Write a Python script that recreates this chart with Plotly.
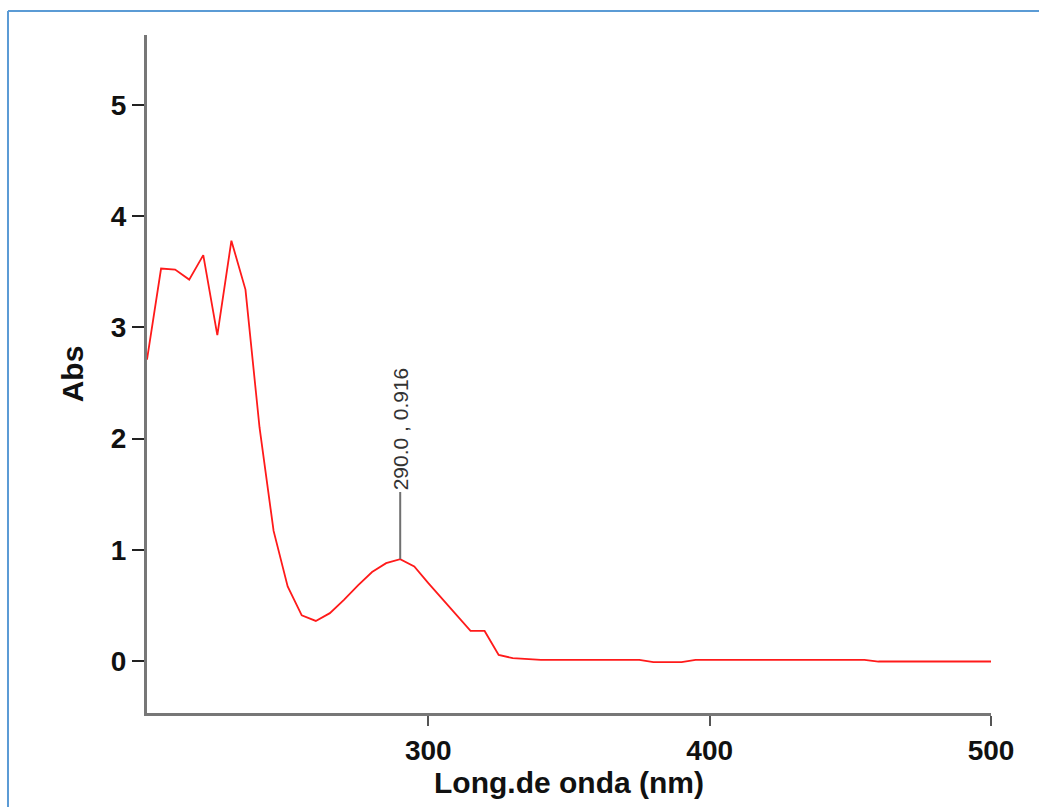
import plotly.graph_objects as go

wavelength = list(range(200, 505, 5))
absorbance = [
    2.71, 3.53, 3.52, 3.43, 3.65, 2.93, 3.78, 3.34, 2.10, 1.17,
    0.67, 0.41, 0.36, 0.43, 0.55, 0.68, 0.80, 0.88, 0.916, 0.85,
    0.70, 0.555, 0.41, 0.27, 0.27, 0.055, 0.025, 0.015, 0.01, 0.01,
    0.01, 0.01, 0.01, 0.01, 0.01, 0.01, -0.01, -0.01, -0.01, 0.01,
    0.01, 0.01, 0.01, 0.01, 0.01, 0.01, 0.01, 0.01, 0.01, 0.01,
    0.01, 0.01, -0.005, -0.005, -0.005, -0.005, -0.005, -0.005, -0.005, -0.005,
    -0.005,
]
peak_x = 290.0
peak_y = 0.916
x_ticks = [300, 400, 500]
y_ticks = [0, 1, 2, 3, 4, 5]

FONT = "Arial, 'Liberation Sans', sans-serif"

fig = go.Figure()
fig.add_trace(go.Scatter(
    x=wavelength, y=absorbance, mode="lines",
    line=dict(color="#ff1a1a", width=1.8),
    showlegend=False, hoverinfo="skip",
))

fig.add_annotation(
    x=peak_x, y=peak_y, xref="x", yref="y",
    text=f"{peak_x:.1f} , {peak_y:.3f}",
    textangle=-90,
    showarrow=True, arrowhead=0, arrowwidth=2, arrowcolor="#707070",
    ax=0, ay=-130,
    font=dict(family=FONT, size=21, color="#333333"),
)

# outer blue frame
fig.add_shape(type="line", xref="paper", yref="paper",
              x0=-0.1647, x1=1.2, y0=1.0354, y1=1.0354,
              line=dict(color="#5b9bd5", width=2))
fig.add_shape(type="line", xref="paper", yref="paper",
              x0=-0.1647, x1=-0.1647, y0=1.0354, y1=-0.3,
              line=dict(color="#5b9bd5", width=2))

fig.update_layout(
    width=1039, height=807,
    margin=dict(l=147, r=48, t=35, b=94),
    paper_bgcolor="white", plot_bgcolor="white",
    font=dict(family=FONT, color="#111111"),
    xaxis=dict(
        range=[200, 500], tickvals=x_ticks, ticktext=[str(v) for v in x_ticks],
        showgrid=False, zeroline=False,
        showline=True, linecolor="#777777", linewidth=3,
        ticks="outside", ticklen=10, tickwidth=2, tickcolor="#555555",
        tickfont=dict(family=FONT, size=28, color="#111111", weight="bold"),
        title=dict(text="Long.de onda (nm)", standoff=6,
                   font=dict(family=FONT, size=30, color="#111111", weight="bold")),
    ),
    yaxis=dict(
        range=[-0.468, 5.63], tickvals=y_ticks, ticktext=[str(v) for v in y_ticks],
        showgrid=False, zeroline=False,
        showline=True, linecolor="#777777", linewidth=3,
        ticks="outside", ticklen=12, tickwidth=1.5, tickcolor="#222222",
        tickfont=dict(family=FONT, size=28, color="#111111", weight="bold"),
        title=dict(text="Abs", standoff=19,
                   font=dict(family=FONT, size=30, color="#111111", weight="bold")),
    ),
)

fig.write_html("out.html")
